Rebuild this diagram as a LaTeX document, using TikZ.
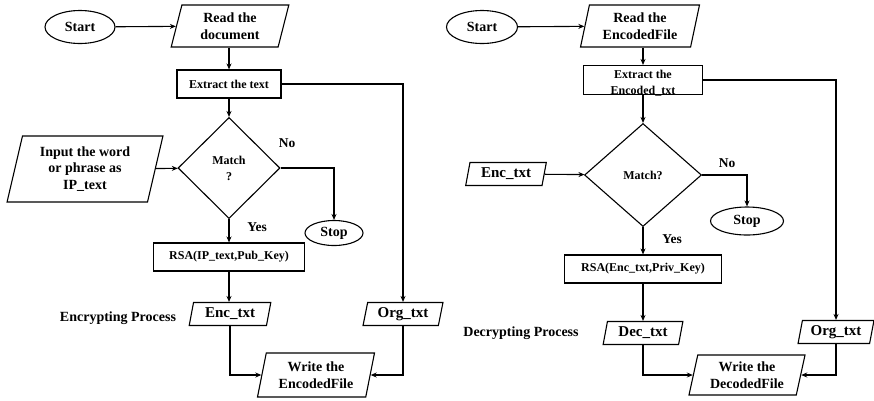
\documentclass[tikz,border=0pt]{standalone}
\usepackage{fontspec}
\setmainfont{Liberation Serif}
\usetikzlibrary{shapes.geometric,arrows.meta}
\begin{document}
\begin{tikzpicture}[x=1pt,y=-1pt,
  base/.style={draw, line width=1.1pt, inner sep=0pt, font=\bfseries\fontsize{14}{16.5}\selectfont, align=center},
  term/.style={base, ellipse},
  io/.style={base, trapezium, trapezium left angle=76, trapezium right angle=104, trapezium stretches=true},
  iosmall/.style={io, font=\bfseries\fontsize{15}{17}\selectfont},
  proc/.style={base, rectangle, font=\bfseries\fontsize{12}{14}\selectfont},
  dec/.style={base, diamond, font=\bfseries\fontsize{12}{16}\selectfont},
  lbl/.style={inner sep=0pt, font=\bfseries\fontsize{14}{16}\selectfont},
  yn/.style={inner sep=0pt, font=\bfseries\fontsize{13.5}{16}\selectfont},
  arr/.style={line width=1.1pt, -{Stealth[length=6pt,width=5pt]}}
]
\useasboundingbox (0,0) rectangle (874,400);
% ---------- left flowchart ----------
\node[term, minimum width=70, minimum height=33] (s1) at (80,27) {Start};
\node[io, minimum width=118, minimum height=42] (r1) at (230,26) {Read the\\document};
\node[proc, minimum width=104, minimum height=28] (e1) at (229,84) {Extract the text};
\node[dec, minimum width=102, minimum height=101] (d1) at (229,168) {Match\\?};
\node[io, minimum width=156, minimum height=66] (in1) at (85,169) {Input the word\\or phrase as\\IP\_text};
\node[term, minimum width=58, minimum height=25] (st1) at (334,233) {Stop};
\node[proc, minimum width=151, minimum height=28] (rsa1) at (229,257) {RSA(IP\_text,Pub\_Key)};
\node[iosmall, minimum width=82, minimum height=23] (enc1) at (230,314) {Enc\_txt};
\node[iosmall, minimum width=80, minimum height=23] (org1) at (403,314) {Org\_txt};
\node[io, minimum width=118, minimum height=44] (w1) at (316,375) {Write the\\EncodedFile};
\node[lbl] (p1) at (118,318) {Encrypting Process};
\node[yn] (no1) at (287,143) {No};
\node[yn] (yes1) at (257,227) {Yes};

\draw[arr] (s1) -- (r1);
\draw[arr] (e1.north |- r1.south) -- (e1.north);
\draw[arr] (e1) -- (d1);
\draw[arr] (e1.east) -| (org1.north);
\draw[arr] (in1) -- (d1);
\draw[arr] (d1.east) -| (st1.north);
\draw[arr] (d1) -- (rsa1);
\draw[arr] (rsa1.south) -- (rsa1.south |- enc1.north);
\draw[arr] (enc1.south) |- (w1.west);
\draw[arr] (org1.south) |- (w1.east);

% ---------- right flowchart ----------
\node[term, minimum width=71, minimum height=33] (s2) at (482,27) {Start};
\node[io, minimum width=120, minimum height=42] (r2) at (640,26) {Read the\\EncodedFile};
\node[proc, minimum width=119, minimum height=29] (e2) at (643,80) {};
\node[inner sep=0pt, align=center, font=\bfseries\fontsize{12}{16}\selectfont] (e2t) at (643,83) {Extract the\\Encoded\_txt};
\node[dec, minimum width=117, minimum height=103] (d2) at (643,175) {Match?};
\node[iosmall, minimum width=81, minimum height=23] (in2) at (506,174) {Enc\_txt};
\node[term, minimum width=73, minimum height=28] (st2) at (747,221) {Stop};
\node[proc, minimum width=157, minimum height=28] (rsa2) at (643,269) {RSA(Enc\_txt,Priv\_Key)};
\node[iosmall, minimum width=80, minimum height=23] (dec2) at (643,333) {Dec\_txt};
\node[iosmall, minimum width=76, minimum height=23] (org2) at (836,332) {Org\_txt};
\node[io, minimum width=117, minimum height=40] (w2) at (747,375) {Write the\\DecodedFile};
\node[lbl] (p2) at (521,333) {Decrypting Process};
\node[yn] (no2) at (727,163) {No};
\node[yn] (yes2) at (672,239) {Yes};

\draw[arr] (s2) -- (r2);
\draw[arr] (e2.north |- r2.south) -- (e2.north);
\draw[arr] (e2) -- (d2);
\draw[arr] (e2.east) -| (org2.north);
\draw[arr] (in2) -- (d2);
\draw[arr] (d2.east) -| (st2.north);
\draw[arr] (d2) -- (rsa2);
\draw[arr] (rsa2) -- (dec2);
\draw[arr] (dec2.south) |- (w2.west);
\draw[arr] (org2.south) |- (w2.east);
\end{tikzpicture}
\end{document}
